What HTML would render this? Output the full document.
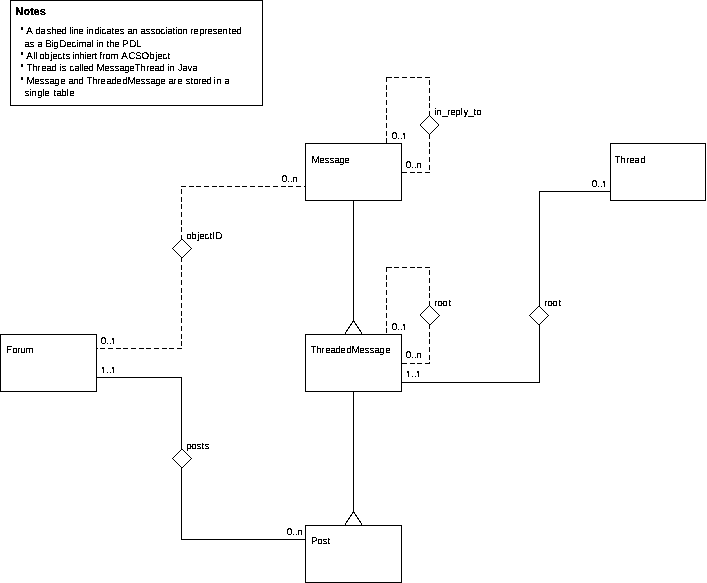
<!DOCTYPE html>
<html><head><meta charset="utf-8"><title>Forum UML</title>
<style>
html,body{margin:0;padding:0;background:#fff;}
body{width:707px;height:583px;overflow:hidden;}
svg{display:block;}
text{font-family:"Liberation Sans",sans-serif;font-size:9.8px;fill:#000;text-rendering:geometricPrecision;}
.b{font-weight:bold;font-size:11px;stroke:#000;stroke-width:0.15px;}
.l{stroke:#000;stroke-width:1;fill:none;shape-rendering:crispEdges;}
.d{stroke:#000;stroke-width:1;fill:none;stroke-dasharray:5 2.67;shape-rendering:crispEdges;}
.s{stroke:#000;stroke-width:1;fill:none;stroke-linejoin:bevel;filter:url(#t);}
</style></head><body>
<svg width="707" height="583" viewBox="0 0 707 583">
<defs><filter id="t" x="0" y="0" width="100%" height="100%" filterUnits="userSpaceOnUse" color-interpolation-filters="sRGB"><feComponentTransfer><feFuncA type="discrete" tableValues="0 0 0 1 1 1 1 1"/></feComponentTransfer></filter></defs>
<rect width="707" height="583" fill="#fff"/>

<rect class="l" x="10.5" y="0.5" width="252" height="105"/>
<rect class="l" x="305.5" y="143.5" width="96" height="57"/>
<rect class="l" x="610.5" y="143.5" width="95" height="57"/>
<rect class="l" x="0.5" y="334.5" width="96" height="57"/>
<rect class="l" x="305.5" y="334.5" width="96" height="57"/>
<rect class="l" x="305.5" y="525.5" width="96" height="57"/>
<polyline class="l" points="353.5,200.5 353.5,320.5"/>
<polyline class="l" points="353.5,391.5 353.5,511.5"/>
<polygon class="s" points="353.5,320.5 362.5,334.5 344.5,334.5"/>
<polygon class="s" points="353.5,511.5 362.5,525.5 344.5,525.5"/>
<line class="d" x1="429.5" y1="116" x2="429.5" y2="77"/>
<line class="d" x1="430" y1="77.5" x2="386" y2="77.5"/>
<line class="d" x1="386.5" y1="77" x2="386.5" y2="144"/>
<line class="d" x1="429.5" y1="134" x2="429.5" y2="173"/>
<line class="d" x1="430" y1="172.5" x2="401" y2="172.5"/>
<polygon class="s" points="429.5,115.5 439,125 429.5,134.5 420,125"/>
<line class="d" x1="181.5" y1="240" x2="181.5" y2="186"/>
<line class="d" x1="181" y1="186.5" x2="306" y2="186.5"/>
<line class="d" x1="181.5" y1="257" x2="181.5" y2="349"/>
<line class="d" x1="182" y1="348.5" x2="96" y2="348.5"/>
<polygon class="s" points="182,239 191.5,248.5 182,258 172.5,248.5"/>
<polyline class="l" points="96.5,377.5 181.5,377.5 181.5,449.5"/>
<polyline class="l" points="181.5,467.5 181.5,539.5 305.5,539.5"/>
<polygon class="s" points="182,449 191.5,458.5 182,468 172.5,458.5"/>
<line class="d" x1="429.5" y1="306" x2="429.5" y2="267"/>
<line class="d" x1="430" y1="267.5" x2="386" y2="267.5"/>
<line class="d" x1="386.5" y1="267" x2="386.5" y2="335"/>
<line class="d" x1="429.5" y1="324" x2="429.5" y2="364"/>
<line class="d" x1="430" y1="363.5" x2="401" y2="363.5"/>
<polygon class="s" points="429.5,305.5 439.5,315.5 430,324.9 420,315"/>
<polyline class="l" points="401.5,382.5 539.5,382.5 539.5,324.5"/>
<polyline class="l" points="539.5,306.5 539.5,191.5 610.5,191.5"/>
<polygon class="s" points="539,306 548.5,315.5 539,325 529.5,315.5"/>
<g filter="url(#t)">
<text x="311.5 319.25 324.25 329.25 334.25 339.25 344.25" y="163">Message</text>
<text x="614.5 620.25 626.25 629.25 634.25 640.25" y="163">Thread</text>
<text x="6.25 12.25 17.25 20.25 25.5" y="353">Forum</text>
<text x="310.5 316.25 321.25 325.25 330.25 335.25 340.25 346.25 351.5 359.25 364.25 369.25 374.25 379.25 385.25" y="353">ThreadedMessage</text>
<text x="311.25 317.25 322.25 327.25" y="544">Post</text>
<text x="391.75 397.25 400.25 401.5" y="139 139 139 140">0..1</text>
<text x="405.75 411.25 414.25 416.25" y="168 168 168 168">0..n</text>
<text x="281.75 287.25 290.25 292.25" y="182 182 182 182">0..n</text>
<text x="591.75 597.25 600.25 601.5" y="187 187 187 188">0..1</text>
<text x="434.5 436.25 442.25 447.25 450.25 455.25 460.5 463.5 468.25 473.25 476.25" y="115">in_reply_to</text>
<text x="186.25 191.25 197.5 199.25 204.25 209.25 212.25 215.25" y="239">objectID</text>
<text x="100.75 106.25 109.25 110.5" y="344 344 344 345">0..1</text>
<text x="100.5 106.25 109.25 110.5" y="374 373 373 374">1..1</text>
<text x="186.25 191.25 196.25 201.25 204.25" y="449">posts</text>
<text x="286.75 292.25 295.25 297.25" y="535 535 535 535">0..n</text>
<text x="391.75 397.25 400.25 401.5" y="330 330 330 331">0..1</text>
<text x="405.75 411.25 414.25 416.25" y="358 358 358 358">0..n</text>
<text x="405.5 411.25 414.25 415.5" y="378 377 377 378">1..1</text>
<text x="434.25 437.25 442.25 448.25" y="306">root</text>
<text x="544.25 547.25 552.25 558.25" y="306">root</text>
<text x="15.3" y="15" class="b">Notes</text>
<text x="20.2" y="31.9" style="font-size:10px">•</text>
<text x="26.25 32.6 35.25 40.25 46.25 51.25 56.25 61.25 66.5 69.5 71.5 73.25 78.25 83.98 86.5 88.25 94.25 99.5 101.25 106.25 111.25 114.25 119.25 124.22 127.25 132.25 137.46 140.25 145.25 150.25 155.25 160.25 165.5 167.25 172.25 175.5 177.25 182.25 187.76 190.25 193.25 199.25 204.25 207.25 212.25 217.25 222.25 228.25 231.25 236.25" y="34">A dashed line indicates an association represented</text>
<text x="24.25 29.25 34.39 37.25 42.4 45.25 51.5 53.25 59.25 66.25 71.25 76.5 78.5 86.25 91.5 93.64 96.5 98.25 103.78 106.25 109.25 114.25 119.8 122.25 129.25 136.25" y="47">as a BigDecimal in the PDL</text>
<text x="20.2" y="56.9" style="font-size:10px">•</text>
<text x="26.25 33.5 35.5 36.66 39.25 44.25 50.5 52.25 57.25 62.25 65.25 68.95 72.5 74.25 79.25 84.5 86.25 91.25 94.25 97.07 99.25 102.25 105.25 110.5 118.41 121.25 128.5 135.25 141.5 149.25 155.5 157.25 162.25 167.25" y="59">All objects inhiert from ACSObject</text>
<text x="20.2" y="68.9" style="font-size:10px">•</text>
<text x="26.5 32.25 37.25 41.25 46.25 51.25 56.62 59.5 61.25 66.13 69.25 74.25 79.5 81.5 83.25 88.25 93.6 96.5 104.25 109.25 114.25 119.25 124.25 129.25 134.5 140.25 146.25 149.25 154.25 159.25 164.94 167.5 169.25 174.98 177.75 182.25 187.5 192.25" y="71">Thread is called MessageThread in Java</text>
<text x="20.2" y="81.9" style="font-size:10px">•</text>
<text x="26.5 34.25 39.25 44.25 49.25 54.25 60.25 65.15 68.25 73.25 78.25 83.69 86.5 92.25 97.25 100.25 106.25 111.25 116.25 122.25 127.5 135.25 140.25 145.25 150.25 155.25 160.25 165.77 168.25 173.25 177.25 182.18 185.25 190.25 193.25 198.25 201.25 206.25 211.3 213.5 216.25 221.36 224.25" y="84">Message and ThreadedMessage are stored in a</text>
<text x="24.25 29.5 31.25 37.25 42.5 44.25 50.11 53.25 56.25 61.25 66.5 69.25" y="96">single table</text>
</g>
<rect x="402" y="139" width="5" height="1" fill="#fff" shape-rendering="crispEdges"/>
<rect x="402" y="134" width="1" height="1" fill="#fff" shape-rendering="crispEdges"/>
<rect x="602" y="187" width="5" height="1" fill="#fff" shape-rendering="crispEdges"/>
<rect x="602" y="182" width="1" height="1" fill="#fff" shape-rendering="crispEdges"/>
<rect x="111" y="344" width="5" height="1" fill="#fff" shape-rendering="crispEdges"/>
<rect x="111" y="339" width="1" height="1" fill="#fff" shape-rendering="crispEdges"/>
<rect x="101" y="373" width="5" height="1" fill="#fff" shape-rendering="crispEdges"/>
<rect x="101" y="368" width="1" height="1" fill="#fff" shape-rendering="crispEdges"/>
<rect x="111" y="373" width="5" height="1" fill="#fff" shape-rendering="crispEdges"/>
<rect x="111" y="368" width="1" height="1" fill="#fff" shape-rendering="crispEdges"/>
<rect x="402" y="330" width="5" height="1" fill="#fff" shape-rendering="crispEdges"/>
<rect x="402" y="325" width="1" height="1" fill="#fff" shape-rendering="crispEdges"/>
<rect x="406" y="377" width="5" height="1" fill="#fff" shape-rendering="crispEdges"/>
<rect x="406" y="372" width="1" height="1" fill="#fff" shape-rendering="crispEdges"/>
<rect x="416" y="377" width="5" height="1" fill="#fff" shape-rendering="crispEdges"/>
<rect x="416" y="372" width="1" height="1" fill="#fff" shape-rendering="crispEdges"/>
</svg>
</body></html>
